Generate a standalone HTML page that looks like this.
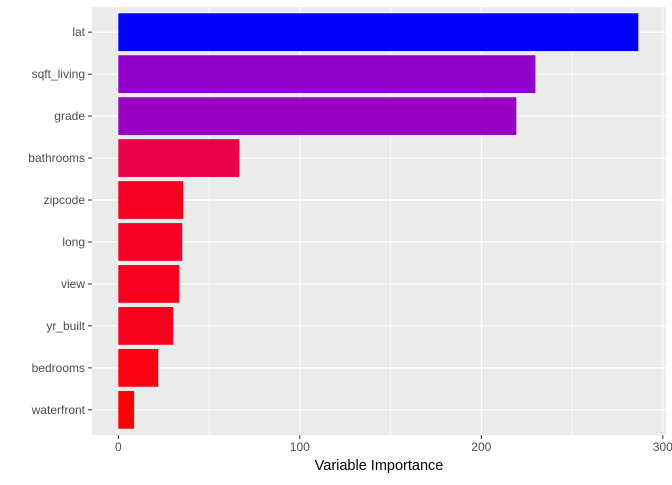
<!DOCTYPE html>
<html><head><meta charset="utf-8"><style>
body{margin:0;background:#fff;}
text{font-family:"Liberation Sans",Arial,sans-serif;}
</style></head><body>
<svg id="chart" width="672" height="480" xmlns="http://www.w3.org/2000/svg"></svg>
<script>
const categories = ["lat","sqft_living","grade","bathrooms","zipcode","long","view","yr_built","bedrooms","waterfront"];
const importance = [286.5,229.8,219.3,66.7,35.8,35.2,33.6,30.3,22.0,8.7];
const xTicks = [0,100,200,300];

const NS="http://www.w3.org/2000/svg";
const svg=document.getElementById('chart');
const pl=92, pr=666, pt=7, pb=435;
const x0=118.3, k=1.815;
const xs=v=>x0+v*k;
const n=categories.length;
const step=(pb-pt)/(n+0.2);
const yc=i=>pt+step*(i+0.6);
function mk(tag,attrs){const e=document.createElementNS(NS,tag);for(const a in attrs)e.setAttribute(a,attrs[a]);svg.appendChild(e);return e;}
const bg=mk('rect',{x:pl,y:pt,width:pr-pl,height:pb-pt,fill:'#ebebeb'});


for(let i=0;i<xTicks.length-1;i++){
  const mv=(xTicks[i]+xTicks[i+1])/2;
  const g=mk('line',{x1:xs(mv),x2:xs(mv),y1:pt,y2:pb,stroke:'#fff','stroke-width':0.6});
  
  
}
xTicks.forEach(t=>{
  const g=mk('line',{x1:xs(t),x2:xs(t),y1:pt,y2:pb,stroke:'#fff','stroke-width':1.2});
  
  
  const tk=mk('line',{x1:xs(t),x2:xs(t),y1:pb,y2:pb+4,stroke:'#333','stroke-width':1});
  
  
  const tl=mk('text',{x:xs(t),y:pb+16,'text-anchor':'middle','font-size':12,fill:'#4d4d4d'});
  tl.textContent=t;
  
  
});
categories.forEach((c,i)=>{
  const g=mk('line',{x1:pl,x2:pr,y1:yc(i),y2:yc(i),stroke:'#fff','stroke-width':1.2});
  
  
});
const vmin=Math.min(...importance), vmax=Math.max(...importance);
const anchors=[[0,[255,0,0]],[0.2,[235,0,72]],[0.76,[152,0,196]],[0.8,[144,0,204]],[1,[0,0,255]]];
function col(v){const t=(v-vmin)/(vmax-vmin);for(let j=1;j<anchors.length;j++){if(t<=anchors[j][0]){const a=anchors[j-1],b=anchors[j];const f=(t-a[0])/(b[0]-a[0]);const c=a[1].map((q,m)=>Math.round(q+(b[1][m]-q)*f));return `rgb(${c})`;}}return 'rgb(0,0,255)';}
categories.forEach((c,i)=>{
  const h=step*0.9;
  const b=mk('rect',{x:xs(0),y:yc(i)-h/2,width:xs(importance[i])-xs(0),height:h,fill:col(importance[i])});
  
  
  const tk=mk('line',{x1:pl-4,x2:pl,y1:yc(i),y2:yc(i),stroke:'#333','stroke-width':1});
  
  
  const tl=mk('text',{x:pl-7,y:yc(i)+4,'text-anchor':'end','font-size':12,fill:'#4d4d4d'});
  tl.textContent=c;
  
  
});
const xt=mk('text',{x:(pl+pr)/2,y:470,'text-anchor':'middle','font-size':14.5,fill:'#000'});
xt.textContent='Variable Importance';


</script>
</body></html>
